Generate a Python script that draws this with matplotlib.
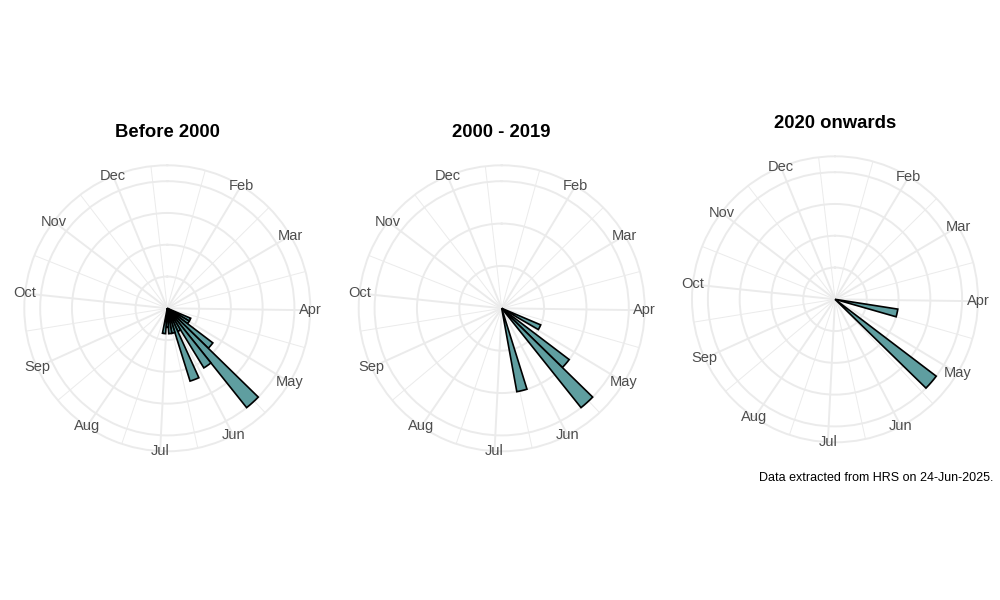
import numpy as np
from matplotlib import pyplot as plt

plt.rcParams['font.family'] = ['Liberation Sans', 'DejaVu Sans']

# ---------- Data: weekly counts (week n covers day-of-year 7(n-1)+1 .. 7n)
titles = ['Before 2000', '2000 - 2019', '2020 onwards']

weeks_before_2000 = [17, 18, 19, 20, 21, 22, 23, 24, 25, 26, 27]
counts_before_2000 = [4, 4, 9, 20, 11, 4, 12, 4, 4, 3, 4]

weeks_2000_2019 = [17, 19, 20, 24]
counts_2000_2019 = [1, 2, 3, 2]

weeks_2020_on = [15, 19]
counts_2020_on = [1, 2]

r_limits = [20, 3, 2]
r_breaks = [[5, 10, 15, 20], [1, 2, 3], [0.5, 1, 1.5, 2]]

month_labels = ['Feb', 'Mar', 'Apr', 'May', 'Jun', 'Jul', 'Aug', 'Sep', 'Oct', 'Nov', 'Dec']
month_start_doy = [32, 60, 91, 121, 152, 182, 213, 244, 274, 305, 335]

caption = 'Data extracted from HRS on 24-Jun-2025.'

# ---------- theta scale (day of year)
DOY_MIN, DOY_MAX = 1.3, 357.0


def theta(doy):
    return 2 * np.pi * (np.asarray(doy, dtype=float) - DOY_MIN) / (DOY_MAX - DOY_MIN)


# minor breaks halfway between month starts (incl. Jan 1 before and Jan 1 after)
all_breaks = [1] + month_start_doy + [366]
minor_doy = [(a + b) / 2 for a, b in zip(all_breaks[:-1], all_breaks[1:])]

GRID = '#EBEBEB'
FILL = '#5F9EA0'

fig = plt.figure(figsize=(10, 6), dpi=100)

panels = [
    (weeks_before_2000, counts_before_2000, (167.3, 308.3)),
    (weeks_2000_2019, counts_2000_2019, (501.7, 308.3)),
    (weeks_2020_on, counts_2020_on, (835.0, 299.3)),
]
R_PX = 143.0

for i, (weeks, counts, (cx, cy)) in enumerate(panels):
    ax = fig.add_axes([(cx - R_PX) / 1000, (600 - cy - R_PX) / 600,
                       2 * R_PX / 1000, 2 * R_PX / 600], projection='polar')
    ax.set_theta_zero_location('N')
    ax.set_theta_direction(-1)
    r_outer = r_limits[i] * 0.45 / 0.4
    ax.set_ylim(0, r_outer)
    ax.set_axisbelow(True)

    ax.set_xticks(theta(month_start_doy))
    ax.set_xticks(theta(minor_doy), minor=True)
    ax.set_xticklabels([])
    ax.set_yticks(r_breaks[i])
    ax.set_yticklabels([])
    ax.tick_params(which='both', length=0)
    ax.xaxis.grid(True, which='major', color=GRID, lw=1.4)
    ax.xaxis.grid(True, which='minor', color=GRID, lw=0.7)
    ax.yaxis.grid(True, color=GRID, lw=1.4)
    ax.spines['polar'].set_color(GRID)
    ax.spines['polar'].set_linewidth(1.4)

    start = 7 * (np.array(weeks) - 1) + 1
    centre = start + 3.5
    ax.bar(theta(centre), counts, width=theta(DOY_MIN + 7), bottom=0,
           color=FILL, edgecolor='black', linewidth=1.2, align='center', zorder=3)

    for lab, d in zip(month_labels, month_start_doy):
        ax.text(theta(d), r_outer, lab, ha='center', va='center',
                color='#4D4D4D', fontsize=10.5, clip_on=False, zorder=4)

    fig.text(cx / 1000, 1 - (cy - 176) / 600, titles[i], ha='center', va='center',
             fontsize=13.3, fontweight='bold')

fig.text(0.993, 1 - 478 / 600, caption, ha='right', va='center', fontsize=9)

plt.savefig('out.png', dpi=100)
